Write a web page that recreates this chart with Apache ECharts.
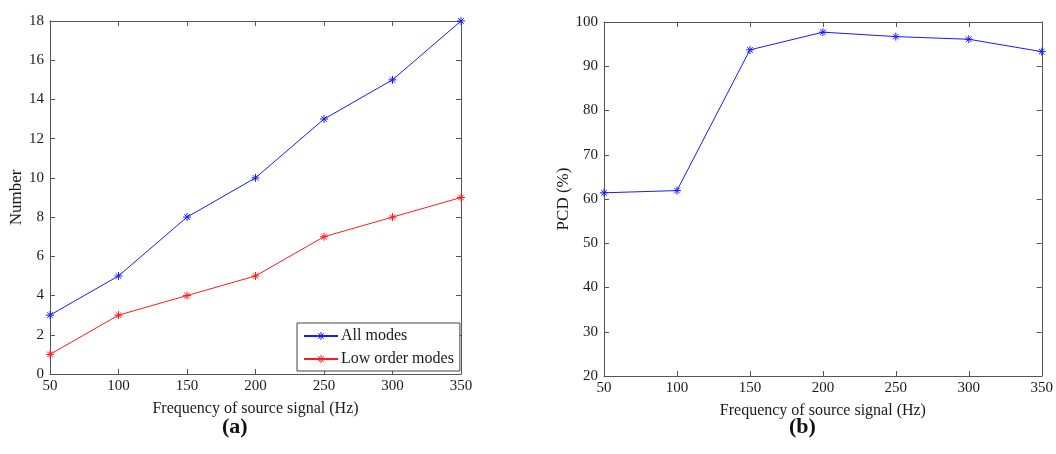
<!DOCTYPE html>
<html><head><meta charset="utf-8">
<script src="https://cdn.jsdelivr.net/npm/echarts@6/dist/echarts.min.js"></script>
<style>html,body{margin:0;padding:0;background:#fff}#c{width:1056px;height:454px}</style>
</head><body><div id="c"></div>
<script>
const freq = [50, 100, 150, 200, 250, 300, 350];
const allModes = [3, 5, 8, 10, 13, 15, 18];
const lowOrderModes = [1, 3, 4, 5, 7, 8, 9];
const pcd = [61.4, 61.9, 93.7, 97.7, 96.7, 96.1, 93.3];
const xLabel = 'Frequency of source signal (Hz)';
const yLabelA = 'Number';
const yLabelB = 'PCD (%)';

const pairs = (ys) => freq.map((f, i) => [f, ys[i]]);
const star = 'path://M5,0L5,10M0,5L10,5M1.5,1.5L8.5,8.5M8.5,1.5L1.5,8.5';
const font = 'Liberation Serif';
const axisCol = '#555';
const txtCol = '#1a1a1a';

function xAxes(grid) {
  return [{
    type: 'value', gridIndex: grid, min: 50, max: 350, interval: 50,
    name: xLabel, nameLocation: 'middle', nameGap: 27,
    nameTextStyle: { fontFamily: font, fontSize: 16, color: txtCol },
    axisLine: { onZero: false, lineStyle: { color: axisCol, width: 1 } },
    axisTick: { inside: true, length: 5, lineStyle: { color: axisCol } },
    axisLabel: { fontFamily: font, fontSize: 15, color: txtCol, margin: 5 },
    splitLine: { show: false }
  }, {
    type: 'value', gridIndex: grid, position: 'top', min: 50, max: 350, interval: 50,
    axisLine: { onZero: false, lineStyle: { color: axisCol, width: 1 } },
    axisTick: { inside: true, length: 5, lineStyle: { color: axisCol } },
    axisLabel: { show: false }, splitLine: { show: false }
  }];
}
function yAxes(grid, min, max, interval, name, gap) {
  return [{
    type: 'value', gridIndex: grid, min: min, max: max, interval: interval,
    name: name, nameLocation: 'middle', nameGap: gap,
    nameTextStyle: { fontFamily: font, fontSize: 17, color: txtCol },
    axisLine: { show: true, onZero: false, lineStyle: { color: axisCol, width: 1 } },
    axisTick: { show: true, inside: true, length: 5, lineStyle: { color: axisCol } },
    axisLabel: { fontFamily: font, fontSize: 15, color: txtCol, margin: 6 },
    splitLine: { show: false }
  }, {
    type: 'value', gridIndex: grid, position: 'right', min: min, max: max, interval: interval,
    axisLine: { show: true, onZero: false, lineStyle: { color: axisCol, width: 1 } },
    axisTick: { show: true, inside: true, length: 5, lineStyle: { color: axisCol } },
    axisLabel: { show: false }, splitLine: { show: false }
  }];
}
function lineSeries(name, ys, color, xi, yi) {
  return {
    name: name, type: 'line', xAxisIndex: xi, yAxisIndex: yi, data: pairs(ys),
    symbol: star, symbolSize: 8, showSymbol: true,
    lineStyle: { color: color, width: 1 },
    itemStyle: { color: color, borderColor: color, borderWidth: 1 },
    animation: false
  };
}

const chart = echarts.init(document.getElementById('c'), null, { renderer: 'canvas' });
chart.setOption({
  animation: false,
  backgroundColor: '#fff',
  grid: [
    { left: 50, right: 595, top: 21, bottom: 80 },
    { left: 604, right: 14, top: 22, bottom: 78 }
  ],
  xAxis: [...xAxes(0), ...xAxes(1)],
  yAxis: [...yAxes(0, 0, 18, 2, yLabelA, 22), ...yAxes(1, 20, 100, 10, yLabelB, 32)],
  legend: {
    left: 297, top: 323, orient: 'vertical',
    backgroundColor: '#fff', borderColor: '#444', borderWidth: 1,
    padding: [5, 6, 4, 6], itemGap: 7, itemWidth: 34, itemHeight: 10,
    textStyle: { fontFamily: font, fontSize: 16, color: txtCol, padding: [0, 0, 0, -2] },
    itemStyle: { borderWidth: 1 },
    data: ['All modes', 'Low order modes']
  },
  series: [
    lineSeries('All modes', allModes, '#1a1aff', 0, 0),
    lineSeries('Low order modes', lowOrderModes, '#ff1a1a', 0, 0),
    lineSeries('PCD', pcd, '#1a1aff', 2, 2)
  ],
  graphic: [
    { type: 'text', left: 222, top: 416, style: { text: '(a)', font: 'bold 22px "Liberation Serif"', fill: '#111' } },
    { type: 'text', left: 789, top: 416, style: { text: '(b)', font: 'bold 22px "Liberation Serif"', fill: '#111' } }
  ]
});
</script></body></html>
